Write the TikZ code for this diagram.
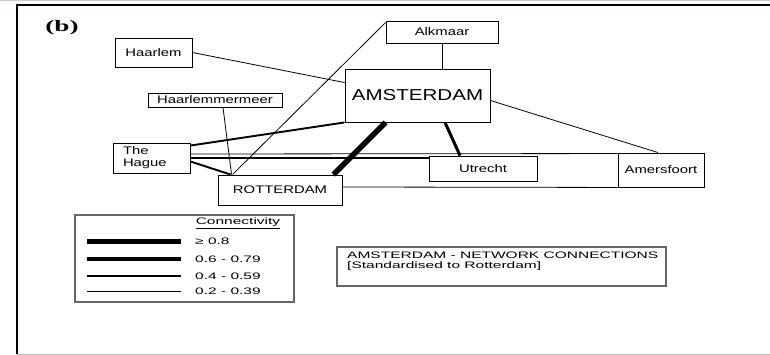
\documentclass[tikz,border=0pt]{standalone}
\usepackage{fontspec}
\usepackage{graphicx}
\setmainfont{Liberation Sans}
\newfontfamily\tagfont{Liberation Serif}
\usetikzlibrary{calc}

% horizontally widened lettering
\newcommand\wx[1]{\scalebox{1.35}[1]{#1}}
\newcommand\wk[1]{\scalebox{1.65}[1]{#1}}

\tikzset{
  town/.style={draw=black, line width=0.9pt, inner sep=0pt,
    font=\fontsize{11}{12}\selectfont},
  panel/.style={draw=black!60, line width=1.1pt, inner sep=0pt},
  keytext/.style={font=\fontsize{9.4}{10.5}\selectfont, inner sep=0pt},
  wA/.style={line width=0.8pt},
  wB/.style={line width=1.9pt},
  wC/.style={line width=3pt},
  wD/.style={line width=5.5pt},
}

\begin{document}
\begin{tikzpicture}[x=1pt,y=-1pt]
\useasboundingbox (0,0) rectangle (770,355);

% frame
\draw[blue!20!gray!35, line width=1pt] (0,1) -- (770,1);
\draw[line width=2pt] (16.5,5) -- (770,5);
\draw[line width=1.4pt] (17,4) -- (17,354);
\draw[gray!55, line width=1pt] (17,354) -- (770,354);

% panel tag
\node[font=\tagfont\bfseries\fontsize{16}{16}\selectfont, inner sep=0pt] (tag) at (62,28) {\scalebox{1.7}[1]{(b)}};

% towns
\node[town, minimum width=77pt, minimum height=29pt] (haarlem) at (153.5,52.5) {\wx{Haarlem}};
\node[town, minimum width=112pt, minimum height=22pt] (alk) at (442,32) {\wx{Alkmaar}};
\node[town, minimum width=145pt, minimum height=53pt,
      font=\fontsize{15.8}{17}\selectfont] (ams) at (417.5,95.5) {\scalebox{1.3}[1]{AMSTERDAM}};
\node[town, minimum width=134pt, minimum height=14pt] (hmm) at (215,100) {\wx{Haarlemmermeer}};
\node[town, minimum width=77pt, minimum height=30pt, text width=57pt,
      inner xsep=10pt, align=left] (hague) at (151.5,158) {\wx{The}\\\wx{Hague}};
\node[town, minimum width=124pt, minimum height=30pt] (rot) at (280,190) {\wx{ROTTERDAM}};
\node[town, minimum width=108pt, minimum height=25pt] (utr) at (483,168.5) {\wx{Utrecht}};
\node[town, minimum width=86pt, minimum height=34pt] (amf) at (661,170) {\wx{Amersfoort}};

% links
\draw[wA] (haarlem.east) -- ($(ams.north west)+(0,14)$);
\draw[wA] (alk.south) -- (alk.south |- ams.north);
\draw[wA] ($(ams.east)+(0,5)$) -- ($(amf.north)+(-3,0)$);
\draw[wC] ($(ams.south)+(27.5,0)$) -- ($(utr.north)+(-23,0)$);
\draw[wD] ($(ams.south west)+(41,0)$) -- ($(rot.north east)+(-9,0)$);
\draw[wB] (ams.south west) -- ($(hague.north east)+(0,3)$);
\draw[wB] ($(hague.east)+(0,3.5)$) -- ($(rot.north west)+(13,0)$);
\draw[wA] ($(hmm.south)+(8,0)$) -- ($(rot.north west)+(14,0)$);
\draw[wA] ($(rot.north west)+(15,0)$) -- ($(alk.north west)+(0,2)$);
\draw[wA] ($(hague.east)+(0,-4)$) -- ($(amf.north west)+(0,1)$);
\draw[wB] (hague.east) -- (hague.east -| utr.west);
\draw[wC] ($(rot.north east)+(0,3)$) -- ($(rot.north east)+(0,3)$ -| utr.west);
\draw[wA] ($(rot.east)+(0,-3)$) -- (amf.south west);
\draw[wA] ($(utr.east)+(0,9.5)$) -- ($(utr.east)+(0,9.5)$ -| amf.west);

% key
\node[panel, minimum width=219pt, minimum height=87pt] (key) at (184.5,258.5) {};
\node[keytext] (keyhead) at (238,223) {\wk{\underline{Connectivity}}};
\draw[line width=5pt] (87,241) -- (181,241);
\draw[line width=3.2pt] (87,259) -- (181,259);
\draw[line width=1.9pt] (87,276) -- (181,276);
\draw[line width=0.9pt] (87,291) -- (181,291);
\node[keytext, anchor=west] (k1) at (195,241) {\wk{≥ 0.8}};
\node[keytext, anchor=west] (k2) at (195,259) {\wk{0.6 - 0.79}};
\node[keytext, anchor=west] (k3) at (195,276) {\wk{0.4 - 0.59}};
\node[keytext, anchor=west] (k4) at (195,291) {\wk{0.2 - 0.39}};

% caption box
\node[panel, minimum width=329pt, minimum height=39pt] (note) at (501.5,266.5) {};
\node[keytext, anchor=north west, align=left] (notetext) at (347,251.5)
  {\wk{AMSTERDAM - NETWORK CONNECTIONS}\\\wk{[Standardised to Rotterdam]}};
\end{tikzpicture}
\end{document}
